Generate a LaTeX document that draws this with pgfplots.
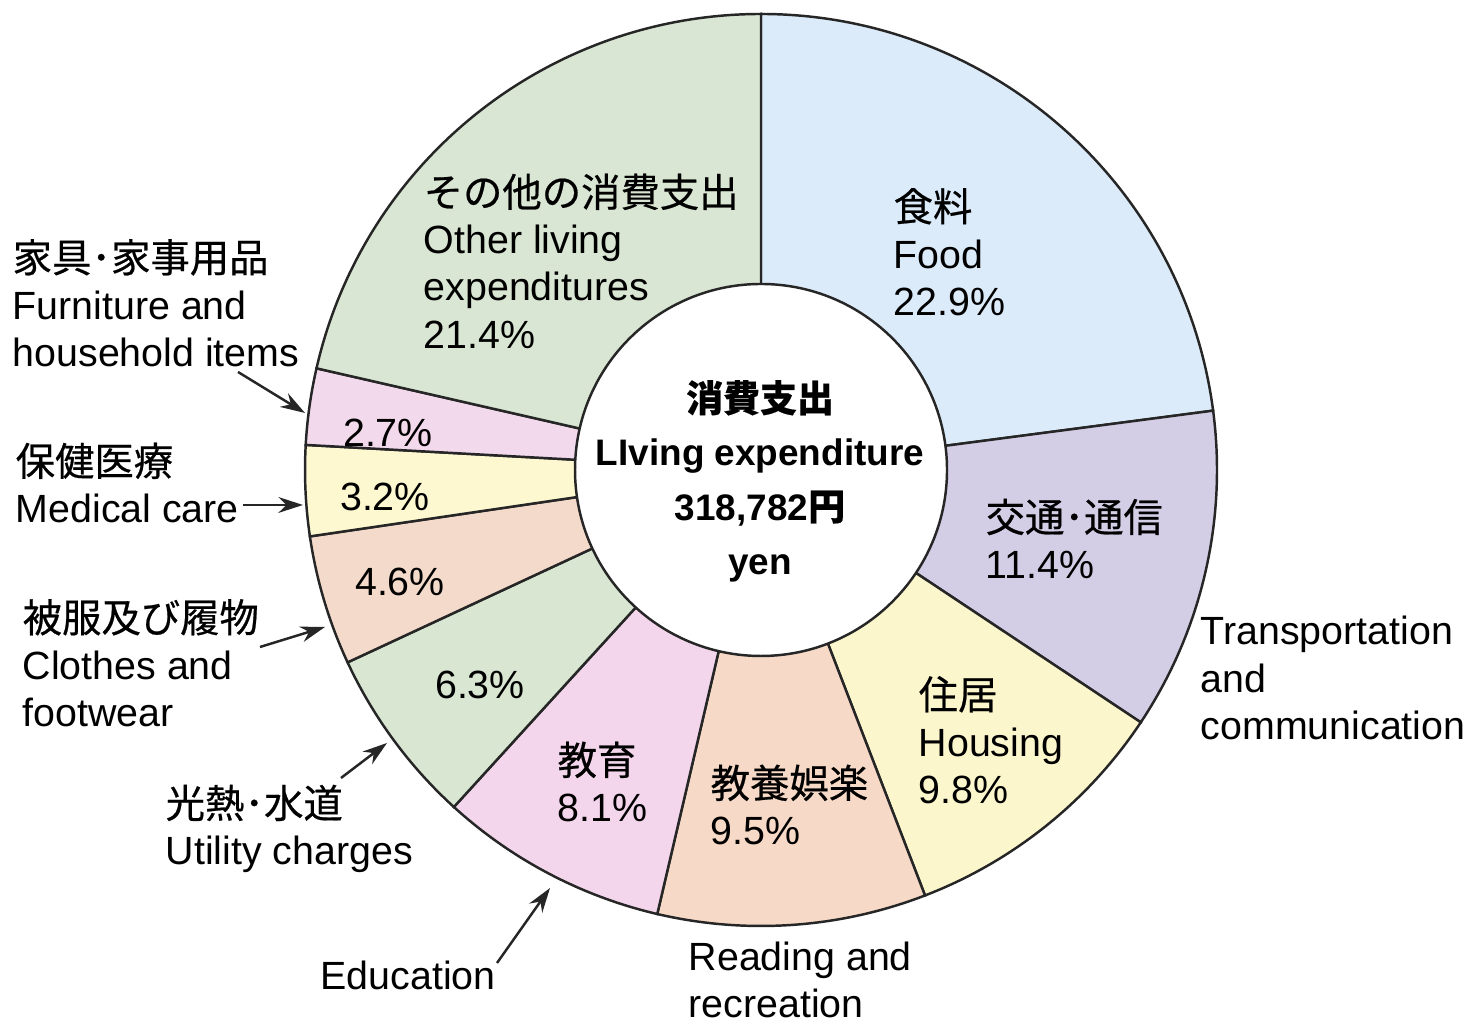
\documentclass[border=0pt]{standalone}
\usepackage{fontspec}
\setmainfont{Liberation Sans}
\newfontfamily\jp{Noto Sans CJK JP}[FakeBold=0.5]
\usepackage{pgfplots}
\usepackage{pgfplotstable}
\pgfplotsset{compat=1.18}
\usetikzlibrary{arrows.meta}

\definecolor{cA}{HTML}{DCEBF9}
\definecolor{cB}{HTML}{D3CEE6}
\definecolor{cC}{HTML}{FCF6CD}
\definecolor{cD}{HTML}{F6D9C6}
\definecolor{cE}{HTML}{F3D6EB}
\definecolor{cF}{HTML}{D8E6D2}
\definecolor{cG}{HTML}{F4DACA}
\definecolor{cH}{HTML}{FDF8D0}
\definecolor{cI}{HTML}{F3D9EC}
\definecolor{cJ}{HTML}{D9E6D3}

% share of living expenditure, clockwise from 12 o'clock
\pgfplotstableread{
name   val   col
Food   22.9  cA
Trans  11.4  cB
House  9.8   cC
Read   9.5   cD
Edu    8.1   cE
Util   6.3   cF
Cloth  4.6   cG
Med    3.2   cH
Furn   2.7   cI
Other  21.4  cJ
}\expdata

\newcommand\lab{\fontsize{11.2}{13.4}\selectfont}
\tikzset{arr/.style={draw=black!85, line width=0.7pt, -{Stealth[length=7pt,width=4.5pt]}}}

\begin{document}
\begin{tikzpicture}
\begin{axis}[
  scale only axis,
  width=14.82cm, height=10.23cm,
  xmin=0, xmax=1482, ymin=0, ymax=1023,
  hide axis, clip=false
]
\path (axis cs:0,0) rectangle (axis cs:1482,1023);

\pgfplotstablegetrowsof{\expdata}
\pgfmathtruncatemacro\lastrow{\pgfplotsretval-1}
\def\astart{90}
\pgfplotsforeachungrouped \i in {0,...,\lastrow}{%
  \pgfplotstablegetelem{\i}{val}\of\expdata \let\sliceval\pgfplotsretval
  \pgfplotstablegetelem{\i}{col}\of\expdata \let\slicecol\pgfplotsretval
  \pgfmathsetmacro\aend{\astart-\sliceval*360/99.9}
  \edef\slice{\noexpand\filldraw[fill=\slicecol, draw=black!85, line width=0.7pt]
    (axis cs:761,553) -- ++(\astart:4.56cm)
    arc[start angle=\astart, end angle=\aend, radius=4.56cm] -- cycle;}
  \slice
  \global\let\astart\aend
}
\filldraw[fill=white, draw=black!85, line width=0.7pt] (axis cs:761,553) circle[radius=1.86cm];

% centre
\node[align=center, inner sep=0, font=\fontsize{10.5}{15.4}\selectfont\bfseries]
  at (axis cs:760,542) {{\jp 消費支出}\\LIving expenditure\\318,782{\jp 円}\\yen};

% labels inside the ring
\node[anchor=west, align=left, inner sep=0, font=\lab] at (axis cs:423,762)
  {{\jp その他の消費支出}\\Other living\\expenditures\\21.4\%};
\node[anchor=west, align=left, inner sep=0, font=\lab] at (axis cs:893,771)
  {{\jp 食料}\\Food\\22.9\%};
\node[anchor=west, align=left, inner sep=0, font=\lab] at (axis cs:985,484)
  {{\jp 交通･通信}\\11.4\%};
\node[anchor=west, align=left, inner sep=0, font=\lab] at (axis cs:918,283)
  {{\jp 住居}\\Housing\\9.8\%};
\node[anchor=west, align=left, inner sep=0, font=\lab] at (axis cs:710,218)
  {{\jp 教養娯楽}\\9.5\%};
\node[anchor=west, align=left, inner sep=0, font=\lab] at (axis cs:557,241)
  {{\jp 教育}\\8.1\%};
\node[inner sep=0, font=\lab] at (axis cs:480,338) {6.3\%};
\node[inner sep=0, font=\lab] at (axis cs:400,441) {4.6\%};
\node[inner sep=0, font=\lab] at (axis cs:385,526) {3.2\%};
\node[inner sep=0, font=\lab] at (axis cs:388,590) {2.7\%};

% labels outside
\node[anchor=west, align=left, inner sep=0, font=\lab] at (axis cs:1200,345)
  {Transportation\\and\\communication};
\node[anchor=west, align=left, inner sep=0, font=\lab] at (axis cs:688,43)
  {Reading and\\recreation};
\node[anchor=west, align=left, inner sep=0, font=\lab] at (axis cs:320,48) {Education};
\node[anchor=west, align=left, inner sep=0, font=\lab] at (axis cs:12,720)
  {{\jp 家具･家事用品}\\Furniture and\\household items};
\node[anchor=west, align=left, inner sep=0, font=\lab] at (axis cs:15,540)
  {{\jp 保健医療}\\Medical care};
\node[anchor=west, align=left, inner sep=0, font=\lab] at (axis cs:22,360)
  {{\jp 被服及び履物}\\Clothes and\\footwear};
\node[anchor=west, align=left, inner sep=0, font=\lab] at (axis cs:165,194)
  {{\jp 光熱･水道}\\Utility charges};

\draw[arr] (axis cs:238,651) -- (axis cs:305,610);
\draw[arr] (axis cs:243,518) -- (axis cs:303,518);
\draw[arr] (axis cs:260,376) -- (axis cs:325,396);
\draw[arr] (axis cs:341,245) -- (axis cs:387,280);
\draw[arr] (axis cs:497,60) -- (axis cs:550,135);
\end{axis}
\end{tikzpicture}
\end{document}
